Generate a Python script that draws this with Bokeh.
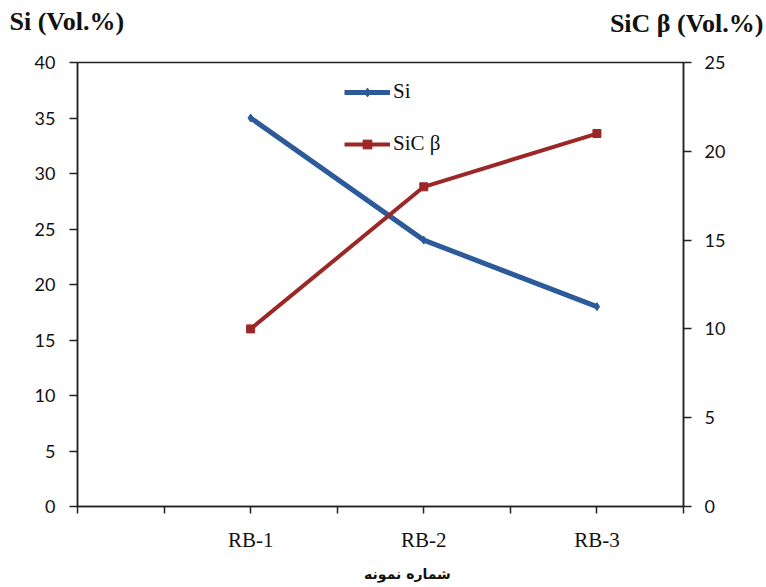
from bokeh.plotting import figure
from bokeh.models import Range1d, LinearAxis, FixedTicker, Label, Legend, LegendItem
from bokeh.embed import file_html
from bokeh.resources import INLINE

categories = ["RB-1", "RB-2", "RB-3"]
si_values = [35, 24, 18]
sic_values = [10, 18, 21]
left_ticks = [0, 5, 10, 15, 20, 25, 30, 35, 40]
right_ticks = [0, 5, 10, 15, 20, 25]

BLUE = "#2C5A9B"
RED = "#9C2727"

# categories sit on every second tick of a 7-interval axis
xs = [2 * (i + 1) for i in range(len(categories))]

p = figure(width=766, height=587, output_backend="svg", toolbar_location=None,
           x_range=Range1d(0, 7), y_range=Range1d(0, 40),
           min_border_left=77, min_border_right=83, min_border_top=62, min_border_bottom=81)
p.extra_y_ranges = {"sic": Range1d(0, 25)}
p.xgrid.visible = False
p.ygrid.visible = False
p.outline_line_color = "#222222"
p.outline_line_width = 1.5
p.background_fill_color = "white"
p.border_fill_color = "white"

num_font = "Lato"
p.yaxis[0].ticker = FixedTicker(ticks=left_ticks)
r_ax = LinearAxis(y_range_name="sic", ticker=FixedTicker(ticks=right_ticks))
p.add_layout(r_ax, "right")

for ax, so in [(p.yaxis[0], 14), (r_ax, 13)]:
    ax.axis_line_color = "#222222"
    ax.axis_line_width = 1.5
    ax.major_tick_line_color = "#222222"
    ax.major_tick_line_width = 1.5
    ax.major_tick_out = 8
    ax.major_tick_in = 0
    ax.minor_tick_line_color = None
    ax.major_label_text_font = num_font
    ax.major_label_text_font_size = "18px"
    ax.major_label_text_color = "#111111"
    ax.major_label_standoff = so

xa = p.xaxis[0]
xa.ticker = FixedTicker(ticks=list(range(8)))
xa.major_label_overrides = {i: "" for i in range(8)}
for x, c in zip(xs, categories):
    xa.major_label_overrides[x] = c
xa.axis_line_color = "#222222"
xa.axis_line_width = 1.5
xa.major_tick_line_color = "#222222"
xa.major_tick_line_width = 1.5
xa.major_tick_out = 7
xa.major_tick_in = 0
xa.minor_tick_line_color = None
xa.major_label_text_font = "Liberation Serif"
xa.major_label_text_font_size = "21px"
xa.major_label_text_color = "#111111"
xa.major_label_standoff = 14

l1 = p.line(xs, si_values, line_color=BLUE, line_width=5)
m1 = p.scatter(xs, si_values, marker="diamond", size=8, fill_color=BLUE, line_color=BLUE)
l2 = p.line(xs, sic_values, line_color=RED, line_width=4, y_range_name="sic")
m2 = p.scatter(xs, sic_values, marker="square", size=8, fill_color=RED, line_color=RED,
               y_range_name="sic")

legend = Legend(items=[LegendItem(label="Si", renderers=[l1, m1]),
                       LegendItem(label="SiC β", renderers=[l2, m2])],
                location=(267, 350), border_line_color=None, background_fill_alpha=0,
                label_text_font="Liberation Serif", label_text_font_size="21px",
                label_text_color="#111111", glyph_width=46, glyph_height=22,
                spacing=27, padding=4, label_standoff=3)
p.add_layout(legend, "center")

p.add_layout(Label(x=9, y=21, x_units="canvas", y_units="canvas", text="Si (Vol.%)",
                   text_font="Liberation Serif", text_font_style="bold",
                   text_font_size="26px", text_color="#111111", text_baseline="middle"), "above")
p.add_layout(Label(x=763, y=23, x_units="canvas", y_units="canvas", text="SiC β (Vol.%)",
                   text_font="Liberation Serif", text_font_style="bold",
                   text_font_size="26px", text_color="#111111", text_baseline="middle",
                   text_align="right"), "above")
p.add_layout(Label(x=407, y=573, x_units="canvas", y_units="canvas", text="شماره نمونه",
                   text_font="DejaVu Sans", text_font_style="bold",
                   text_font_size="14px", text_color="#111111", text_baseline="middle",
                   text_align="center"), "below")

open("out.html", "w").write(file_html(p, INLINE))
